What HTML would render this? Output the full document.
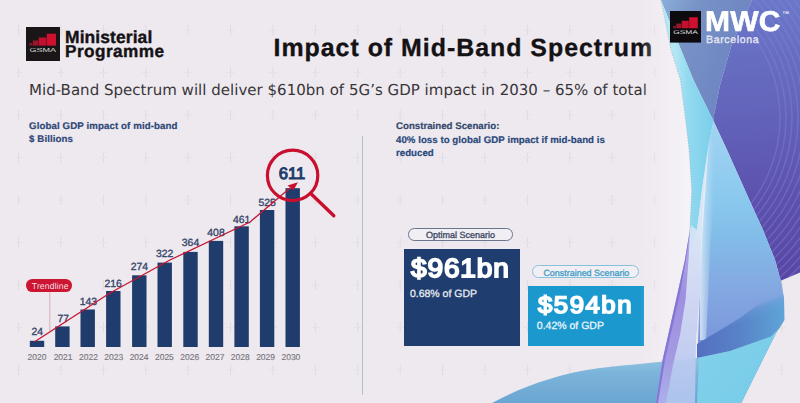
<!DOCTYPE html>
<html><head><meta charset="utf-8">
<style>
*{margin:0;padding:0;box-sizing:border-box}
html,body{width:800px;height:403px;overflow:hidden;background:#eee9ef}
body{position:relative;font-family:"Liberation Sans",sans-serif;text-rendering:geometricPrecision}
.a{position:absolute;white-space:nowrap;line-height:1}
.t{position:absolute;white-space:nowrap;line-height:1}
</style></head><body>
<svg class="a" style="left:0;top:0" width="800" height="403" viewBox="0 0 800 403">
<path d="M18.6 25.0v10M18.6 67.5v10M18.6 110.0v10M18.6 152.5v10M18.6 195.0v10M18.6 237.5v10M18.6 280.0v10M18.6 322.5v10M18.6 365.0v10M18.6 407.5v10M61.0 25.0v10M61.0 67.5v10M61.0 110.0v10M61.0 152.5v10M61.0 195.0v10M61.0 237.5v10M61.0 280.0v10M61.0 322.5v10M61.0 365.0v10M61.0 407.5v10M103.4 25.0v10M103.4 67.5v10M103.4 110.0v10M103.4 152.5v10M103.4 195.0v10M103.4 237.5v10M103.4 280.0v10M103.4 322.5v10M103.4 365.0v10M103.4 407.5v10M145.8 25.0v10M145.8 67.5v10M145.8 110.0v10M145.8 152.5v10M145.8 195.0v10M145.8 237.5v10M145.8 280.0v10M145.8 322.5v10M145.8 365.0v10M145.8 407.5v10M188.2 25.0v10M188.2 67.5v10M188.2 110.0v10M188.2 152.5v10M188.2 195.0v10M188.2 237.5v10M188.2 280.0v10M188.2 322.5v10M188.2 365.0v10M188.2 407.5v10M230.6 25.0v10M230.6 67.5v10M230.6 110.0v10M230.6 152.5v10M230.6 195.0v10M230.6 237.5v10M230.6 280.0v10M230.6 322.5v10M230.6 365.0v10M230.6 407.5v10M273.0 25.0v10M273.0 67.5v10M273.0 110.0v10M273.0 152.5v10M273.0 195.0v10M273.0 237.5v10M273.0 280.0v10M273.0 322.5v10M273.0 365.0v10M273.0 407.5v10M315.4 25.0v10M315.4 67.5v10M315.4 110.0v10M315.4 152.5v10M315.4 195.0v10M315.4 237.5v10M315.4 280.0v10M315.4 322.5v10M315.4 365.0v10M315.4 407.5v10M357.8 25.0v10M357.8 67.5v10M357.8 110.0v10M357.8 152.5v10M357.8 195.0v10M357.8 237.5v10M357.8 280.0v10M357.8 322.5v10M357.8 365.0v10M357.8 407.5v10M400.2 25.0v10M400.2 67.5v10M400.2 110.0v10M400.2 152.5v10M400.2 195.0v10M400.2 237.5v10M400.2 280.0v10M400.2 322.5v10M400.2 365.0v10M400.2 407.5v10M442.6 25.0v10M442.6 67.5v10M442.6 110.0v10M442.6 152.5v10M442.6 195.0v10M442.6 237.5v10M442.6 280.0v10M442.6 322.5v10M442.6 365.0v10M442.6 407.5v10M485.0 25.0v10M485.0 67.5v10M485.0 110.0v10M485.0 152.5v10M485.0 195.0v10M485.0 237.5v10M485.0 280.0v10M485.0 322.5v10M485.0 365.0v10M485.0 407.5v10M527.4 25.0v10M527.4 67.5v10M527.4 110.0v10M527.4 152.5v10M527.4 195.0v10M527.4 237.5v10M527.4 280.0v10M527.4 322.5v10M527.4 365.0v10M527.4 407.5v10M569.8 25.0v10M569.8 67.5v10M569.8 110.0v10M569.8 152.5v10M569.8 195.0v10M569.8 237.5v10M569.8 280.0v10M569.8 322.5v10M569.8 365.0v10M569.8 407.5v10M612.2 25.0v10M612.2 67.5v10M612.2 110.0v10M612.2 152.5v10M612.2 195.0v10M612.2 237.5v10M612.2 280.0v10M612.2 322.5v10M612.2 365.0v10M612.2 407.5v10M654.6 25.0v10M654.6 67.5v10M654.6 110.0v10M654.6 152.5v10M654.6 195.0v10M654.6 237.5v10M654.6 280.0v10M654.6 322.5v10M654.6 365.0v10M654.6 407.5v10M697.0 25.0v10M697.0 67.5v10M697.0 110.0v10M697.0 152.5v10M697.0 195.0v10M697.0 237.5v10M697.0 280.0v10M697.0 322.5v10M697.0 365.0v10M697.0 407.5v10M739.4 25.0v10M739.4 67.5v10M739.4 110.0v10M739.4 152.5v10M739.4 195.0v10M739.4 237.5v10M739.4 280.0v10M739.4 322.5v10M739.4 365.0v10M739.4 407.5v10M781.8 25.0v10M781.8 67.5v10M781.8 110.0v10M781.8 152.5v10M781.8 195.0v10M781.8 237.5v10M781.8 280.0v10M781.8 322.5v10M781.8 365.0v10M781.8 407.5v10" stroke="#dfd9e2" stroke-width="1" fill="none"/><path d="M14.6 30.0h8M14.6 72.5h8M14.6 115.0h8M14.6 157.5h8M14.6 200.0h8M14.6 242.5h8M14.6 285.0h8M14.6 327.5h8M14.6 370.0h8M14.6 412.5h8M57.0 30.0h8M57.0 72.5h8M57.0 115.0h8M57.0 157.5h8M57.0 200.0h8M57.0 242.5h8M57.0 285.0h8M57.0 327.5h8M57.0 370.0h8M57.0 412.5h8M99.4 30.0h8M99.4 72.5h8M99.4 115.0h8M99.4 157.5h8M99.4 200.0h8M99.4 242.5h8M99.4 285.0h8M99.4 327.5h8M99.4 370.0h8M99.4 412.5h8M141.8 30.0h8M141.8 72.5h8M141.8 115.0h8M141.8 157.5h8M141.8 200.0h8M141.8 242.5h8M141.8 285.0h8M141.8 327.5h8M141.8 370.0h8M141.8 412.5h8M184.2 30.0h8M184.2 72.5h8M184.2 115.0h8M184.2 157.5h8M184.2 200.0h8M184.2 242.5h8M184.2 285.0h8M184.2 327.5h8M184.2 370.0h8M184.2 412.5h8M226.6 30.0h8M226.6 72.5h8M226.6 115.0h8M226.6 157.5h8M226.6 200.0h8M226.6 242.5h8M226.6 285.0h8M226.6 327.5h8M226.6 370.0h8M226.6 412.5h8M269.0 30.0h8M269.0 72.5h8M269.0 115.0h8M269.0 157.5h8M269.0 200.0h8M269.0 242.5h8M269.0 285.0h8M269.0 327.5h8M269.0 370.0h8M269.0 412.5h8M311.4 30.0h8M311.4 72.5h8M311.4 115.0h8M311.4 157.5h8M311.4 200.0h8M311.4 242.5h8M311.4 285.0h8M311.4 327.5h8M311.4 370.0h8M311.4 412.5h8M353.8 30.0h8M353.8 72.5h8M353.8 115.0h8M353.8 157.5h8M353.8 200.0h8M353.8 242.5h8M353.8 285.0h8M353.8 327.5h8M353.8 370.0h8M353.8 412.5h8M396.2 30.0h8M396.2 72.5h8M396.2 115.0h8M396.2 157.5h8M396.2 200.0h8M396.2 242.5h8M396.2 285.0h8M396.2 327.5h8M396.2 370.0h8M396.2 412.5h8M438.6 30.0h8M438.6 72.5h8M438.6 115.0h8M438.6 157.5h8M438.6 200.0h8M438.6 242.5h8M438.6 285.0h8M438.6 327.5h8M438.6 370.0h8M438.6 412.5h8M481.0 30.0h8M481.0 72.5h8M481.0 115.0h8M481.0 157.5h8M481.0 200.0h8M481.0 242.5h8M481.0 285.0h8M481.0 327.5h8M481.0 370.0h8M481.0 412.5h8M523.4 30.0h8M523.4 72.5h8M523.4 115.0h8M523.4 157.5h8M523.4 200.0h8M523.4 242.5h8M523.4 285.0h8M523.4 327.5h8M523.4 370.0h8M523.4 412.5h8M565.8 30.0h8M565.8 72.5h8M565.8 115.0h8M565.8 157.5h8M565.8 200.0h8M565.8 242.5h8M565.8 285.0h8M565.8 327.5h8M565.8 370.0h8M565.8 412.5h8M608.2 30.0h8M608.2 72.5h8M608.2 115.0h8M608.2 157.5h8M608.2 200.0h8M608.2 242.5h8M608.2 285.0h8M608.2 327.5h8M608.2 370.0h8M608.2 412.5h8M650.6 30.0h8M650.6 72.5h8M650.6 115.0h8M650.6 157.5h8M650.6 200.0h8M650.6 242.5h8M650.6 285.0h8M650.6 327.5h8M650.6 370.0h8M650.6 412.5h8M693.0 30.0h8M693.0 72.5h8M693.0 115.0h8M693.0 157.5h8M693.0 200.0h8M693.0 242.5h8M693.0 285.0h8M693.0 327.5h8M693.0 370.0h8M693.0 412.5h8M735.4 30.0h8M735.4 72.5h8M735.4 115.0h8M735.4 157.5h8M735.4 200.0h8M735.4 242.5h8M735.4 285.0h8M735.4 327.5h8M735.4 370.0h8M735.4 412.5h8M777.8 30.0h8M777.8 72.5h8M777.8 115.0h8M777.8 157.5h8M777.8 200.0h8M777.8 242.5h8M777.8 285.0h8M777.8 327.5h8M777.8 370.0h8M777.8 412.5h8" stroke="#e6e1e8" stroke-width="1" fill="none"/>
</svg>

<!-- GSMA logo left -->
<svg class="a" style="left:26px;top:27px" width="34" height="34" viewBox="0 0 34 34">
<rect width="34" height="34" fill="#1a1618"/>
<rect x="3.4" y="16" width="2.9" height="2.6" fill="#7a1a2a"/>
<rect x="6.8" y="13.5" width="5.4" height="5.1" fill="#9a142c"/>
<rect x="12.7" y="10.5" width="7.6" height="8.1" fill="#c4102e"/>
<rect x="20.7" y="6.7" width="9.3" height="11.9" fill="#d0102f"/>
<text x="3.4" y="24.9" font-family="Liberation Sans, sans-serif" font-size="5.9" fill="#d6d6d6" textLength="26.6" lengthAdjust="spacingAndGlyphs">GSMA</text>
</svg>
<div class="t" id="min1" style="left:65px;top:28.9px;font-size:17.45px;letter-spacing:0.1px;font-weight:bold;color:#151215;-webkit-text-stroke:0.4px #151215">Ministerial</div>
<div class="t" id="min2" style="left:65px;top:42.8px;font-size:17.2px;letter-spacing:0.45px;font-weight:bold;color:#151215;-webkit-text-stroke:0.4px #151215">Programme</div>

<div class="t" id="title" style="left:273.5px;top:36.2px;font-size:24.9px;letter-spacing:1px;font-weight:bold;color:#141214;-webkit-text-stroke:0.35px #141214">Impact of Mid-Band Spectrum</div>
<div class="t" id="sub" style="left:29px;top:82.7px;font-size:15px;letter-spacing:0.02px;font-family:'DejaVu Sans',sans-serif;color:#383538">Mid-Band Spectrum will deliver $610bn of 5G’s GDP impact in 2030 – 65% of total</div>

<div class="t" id="h1" style="left:29px;top:121.8px;font-size:9.7px;letter-spacing:0.1px;font-weight:bold;color:#2f4a78;-webkit-text-stroke:0.2px #2f4a78">Global GDP impact of mid-band</div>
<div class="t" id="h2" style="left:29px;top:134.6px;font-size:9.7px;letter-spacing:0.1px;font-weight:bold;color:#2f4a78;-webkit-text-stroke:0.2px #2f4a78">$ Billions</div>

<div class="t" id="c1" style="left:396px;top:122.4px;font-size:9.7px;font-weight:bold;color:#34496e;-webkit-text-stroke:0.2px #34496e">Constrained Scenario:</div>
<div class="t" id="c2" style="left:396px;top:136.2px;font-size:9.7px;letter-spacing:0.03px;font-weight:bold;color:#2b4a7c;-webkit-text-stroke:0.2px #2b4a7c">40% loss to global GDP impact if mid-band is</div>
<div class="t" id="c3" style="left:396px;top:148.8px;font-size:9.7px;font-weight:bold;color:#2b4a7c;-webkit-text-stroke:0.2px #2b4a7c">reduced</div>

<!-- divider -->
<div class="a" style="left:361.6px;top:136px;width:1.2px;height:258.5px;background:#b7bfc8"></div>

<!-- chart -->
<svg class="a" style="left:0;top:0" width="360" height="403" viewBox="0 0 360 403" id="chart">
<g fill="#1f3c6d">
<rect x="29.8" y="340.8" width="14.4" height="6.2"/>
<rect x="55.2" y="326.4" width="14.4" height="20.6"/>
<rect x="80.5" y="309.5" width="14.4" height="37.5"/>
<rect x="106.1" y="291" width="14.4" height="56"/>
<rect x="132.1" y="275.3" width="14.4" height="71.7"/>
<rect x="157.5" y="262.6" width="14.4" height="84.4"/>
<rect x="183.3" y="251.9" width="14.4" height="95.1"/>
<rect x="208.8" y="240.9" width="14.4" height="106.1"/>
<rect x="234.4" y="226.3" width="14.4" height="120.7"/>
<rect x="259.9" y="210" width="14.4" height="137"/>
<rect x="285.5" y="188.2" width="14.4" height="158.8"/>
</g>
<g font-family="Liberation Sans, sans-serif" font-size="10.4" fill="#34466a" stroke="#34466a" stroke-width="0.35" text-anchor="middle">
<text x="37.2" y="335">24</text>
<text x="63.2" y="321.6">77</text>
<text x="88.4" y="304.6">143</text>
<text x="113.2" y="286.8">216</text>
<text x="139.3" y="269.8">274</text>
<text x="164.7" y="257">322</text>
<text x="190.5" y="245.6">364</text>
<text x="216" y="235.7">408</text>
<text x="241.6" y="222.8">461</text>
<text x="267.1" y="205.9">525</text>
</g>
<text x="292" y="178.7" font-family="Liberation Sans, sans-serif" font-size="16.6" fill="#223b6b" stroke="#223b6b" stroke-width="1" text-anchor="middle">611</text>
<g font-family="Liberation Sans, sans-serif" font-size="8.5" fill="#78757c" stroke="#78757c" stroke-width="0.15" text-anchor="middle">
<text x="37" y="359.5">2020</text>
<text x="63.1" y="359.5">2021</text>
<text x="88.5" y="359.5">2022</text>
<text x="113.8" y="359.5">2023</text>
<text x="139.1" y="359.5">2024</text>
<text x="164.4" y="359.5">2025</text>
<text x="189.7" y="359.5">2026</text>
<text x="215" y="359.5">2027</text>
<text x="240.3" y="359.5">2028</text>
<text x="265.6" y="359.5">2029</text>
<text x="290.9" y="359.5">2030</text>
</g>
<line x1="49.8" y1="292" x2="49.8" y2="331" stroke="#d4a0aa" stroke-width="0.8"/>
<polyline points="34.6,341.7 110,293 170,260 250,222 290,188" fill="none" stroke="#c8142f" stroke-width="1.3" stroke-linejoin="round"/>
<polygon points="298,182.3 287.5,185.6 293.5,190.3" fill="#c8102e"/>
<circle cx="292.6" cy="175.4" r="25.2" fill="none" stroke="#c8102e" stroke-width="3.2"/>
<line x1="311.5" y1="194.3" x2="333.8" y2="215.8" stroke="#c8102e" stroke-width="3.4" stroke-linecap="round"/>
</svg>

<!-- trendline pill -->
<div class="a" style="left:26px;top:279.2px;width:46.4px;height:12.8px;border-radius:6.4px;background:#cc1530"></div>
<div class="t" id="tl" style="left:31.8px;top:281.6px;font-size:8.7px;letter-spacing:0.1px;color:#f4dfe2">Trendline</div>

<!-- scenario boxes -->
<div class="a" style="left:407.9px;top:228.3px;width:105.2px;height:12.6px;border-radius:6.3px;border:1px solid #6a7690;background:#f1eef4"></div>
<div class="t" id="os" style="left:426px;top:231.1px;font-size:9px;color:#3a4662;-webkit-text-stroke:0.3px #3a4662">Optimal Scenario</div>
<div class="a" style="left:404px;top:248.8px;width:115.5px;height:97px;background:#1f3d6e"></div>
<div class="t" id="v1" style="left:410.6px;top:254.9px;font-size:26.2px;letter-spacing:0.8px;color:#fff;-webkit-text-stroke:1.8px #fff;transform:scaleX(1.07);transform-origin:0 0">$961bn</div>
<div class="t" id="p1" style="left:409.9px;top:288.6px;font-size:10.5px;color:#eef0f5;-webkit-text-stroke:0.25px #eef0f5">0.68% of GDP</div>

<div class="a" style="left:531.6px;top:265.4px;width:107.9px;height:13.1px;border-radius:6.5px;border:1px solid #86c2de;background:#f1eef4"></div>
<div class="t" id="cs" style="left:543.4px;top:268.8px;font-size:8.95px;color:#3d9cc6;-webkit-text-stroke:0.3px #3d9cc6">Constrained Scenario</div>
<div class="a" style="left:528.3px;top:286.1px;width:115.7px;height:60px;background:#1b98cd"></div>
<div class="t" id="v2" style="left:537.9px;top:293.5px;font-size:24px;letter-spacing:1.45px;color:#fff;-webkit-text-stroke:1.7px #fff;transform:scaleX(1.07);transform-origin:0 0">$594bn</div>
<div class="t" id="p2" style="left:536.8px;top:321.1px;font-size:10.5px;color:#eef6fb;-webkit-text-stroke:0.25px #eef6fb">0.42% of GDP</div>

<!-- ribbon graphic -->
<svg class="a" style="left:0;top:0" width="800" height="403" viewBox="0 0 800 403" id="ribbon">
<defs>
<clipPath id="cPurp"><path d="M752,0 L800,0 L800,272.4 L780,281 L779,274.6 L775,259.8 L769,244.9 L763,230 L749.4,200 L727,150 L713.5,121 L714,115 L720,85 L732,43.4 Z"/></clipPath>
<linearGradient id="gSteel" gradientUnits="userSpaceOnUse" x1="661" y1="0" x2="745" y2="30">
<stop offset="0" stop-color="#8aaed8"/><stop offset="0.4" stop-color="#7892c6"/><stop offset="1" stop-color="#6e86c2"/>
</linearGradient>
<linearGradient id="gPurp" gradientUnits="userSpaceOnUse" x1="760" y1="0" x2="780" y2="280">
<stop offset="0" stop-color="#6a78c8"/><stop offset="0.35" stop-color="#6466bc"/><stop offset="0.7" stop-color="#5c52ae"/><stop offset="1" stop-color="#5846a4"/>
</linearGradient>
<linearGradient id="gCyan" gradientUnits="userSpaceOnUse" x1="675" y1="0" x2="712" y2="0">
<stop offset="0" stop-color="#b4e6f4"/><stop offset="0.35" stop-color="#92daf0"/><stop offset="1" stop-color="#7ccfea"/>
</linearGradient>
<linearGradient id="gLB" gradientUnits="userSpaceOnUse" x1="0" y1="123" x2="0" y2="345">
<stop offset="0" stop-color="#a2d4f2"/><stop offset="0.35" stop-color="#8ac8ee"/><stop offset="0.52" stop-color="#82bce8"/><stop offset="0.72" stop-color="#84aae2"/><stop offset="1" stop-color="#7a96da"/>
</linearGradient>
<linearGradient id="gBand" gradientUnits="userSpaceOnUse" x1="699" y1="0" x2="784" y2="0">
<stop offset="0" stop-color="#5470c0"/><stop offset="0.5" stop-color="#5884c8"/><stop offset="1" stop-color="#5ea4d8"/>
</linearGradient>
<linearGradient id="gCy" gradientUnits="userSpaceOnUse" x1="700" y1="355" x2="760" y2="403">
<stop offset="0" stop-color="#80d0ea"/><stop offset="1" stop-color="#78cce8"/>
</linearGradient>
<linearGradient id="gFan" gradientUnits="userSpaceOnUse" x1="0" y1="362" x2="0" y2="403">
<stop offset="0" stop-color="#8cc0e0"/><stop offset="0.25" stop-color="#7cb4da"/><stop offset="1" stop-color="#6aa6d2"/>
</linearGradient>
<linearGradient id="gLav" gradientUnits="userSpaceOnUse" x1="0" y1="230" x2="0" y2="403">
<stop offset="0" stop-color="#b0a4e6"/><stop offset="0.4" stop-color="#9484dc"/><stop offset="1" stop-color="#7c6cd2"/>
</linearGradient>
<linearGradient id="gGlow" gradientUnits="userSpaceOnUse" x1="640" y1="0" x2="690" y2="0">
<stop offset="0" stop-color="#f4f1f6" stop-opacity="0"/><stop offset="1" stop-color="#f6f4f8" stop-opacity="0.9"/>
</linearGradient>
<linearGradient id="gMB" gradientUnits="userSpaceOnUse" x1="733" y1="312" x2="745" y2="345">
<stop offset="0" stop-color="#000"/><stop offset="0.15" stop-color="#bbb"/><stop offset="0.4" stop-color="#fff"/><stop offset="1" stop-color="#fff"/>
</linearGradient>
<mask id="mBand" maskUnits="userSpaceOnUse" x="690" y="270" width="110" height="100"><rect x="690" y="270" width="110" height="100" fill="url(#gMB)"/></mask>
<linearGradient id="gLavL" gradientUnits="userSpaceOnUse" x1="0" y1="225" x2="0" y2="403">
<stop offset="0" stop-color="#b8b0ea"/><stop offset="0.4" stop-color="#9e90e0"/><stop offset="0.75" stop-color="#a49ae2"/><stop offset="1" stop-color="#aab0e8"/>
</linearGradient>
<linearGradient id="gFade" gradientUnits="userSpaceOnUse" x1="701" y1="0" x2="714" y2="0">
<stop offset="0" stop-color="#e4f0fa" stop-opacity="0.75"/><stop offset="1" stop-color="#c8e4f6" stop-opacity="0"/>
</linearGradient>
<linearGradient id="gWhite" gradientUnits="userSpaceOnUse" x1="0" y1="150" x2="0" y2="403">
<stop offset="0" stop-color="#d6ecf8"/><stop offset="0.35" stop-color="#d6e4f6"/><stop offset="0.6" stop-color="#ccd4f2"/><stop offset="0.85" stop-color="#bccaf0"/><stop offset="1" stop-color="#b2c6ee"/>
</linearGradient>
</defs>
<path d="M640,0 L661,0 L671,50 L680.4,80 L686,123 L689.1,150 L691.8,190 L689.9,230 L684.9,260 L678.3,290 L662.6,360 L655.9,403 L630,403 Z" fill="url(#gGlow)"/>
<path d="M661,0 L752,0 L732,43.4 L720,85 L714,115 L713.5,121 L693.5,80 L677,40 Z" fill="url(#gSteel)"/>
<path d="M752,0 L800,0 L800,272.4 L780,281 L779,274.6 L775,259.8 L769,244.9 L763,230 L749.4,200 L727,150 L713.5,121 L714,115 L720,85 L732,43.4 Z" fill="url(#gPurp)"/>
<g clip-path="url(#cPurp)" fill="none" stroke="#8a86dc" stroke-width="1.5" opacity="0.38"><circle cx="640" cy="118" r="140"/><circle cx="640" cy="118" r="146"/><circle cx="640" cy="118" r="152"/><circle cx="640" cy="118" r="158"/><circle cx="640" cy="118" r="164"/><circle cx="640" cy="118" r="170"/><circle cx="640" cy="118" r="176"/><circle cx="640" cy="118" r="182"/><circle cx="640" cy="118" r="188"/><circle cx="640" cy="118" r="194"/><circle cx="640" cy="118" r="200"/><circle cx="640" cy="118" r="206"/><circle cx="640" cy="118" r="212"/><circle cx="640" cy="118" r="218"/><circle cx="640" cy="118" r="224"/><circle cx="640" cy="118" r="230"/><circle cx="640" cy="118" r="236"/><circle cx="640" cy="118" r="242"/><circle cx="640" cy="118" r="248"/><circle cx="640" cy="118" r="254"/><circle cx="640" cy="118" r="260"/><circle cx="640" cy="118" r="266"/></g>
<path d="M661,0 L677,40 L693.5,80 L713.5,121 L708.6,145 L702,190 L697,230 L691,250 L689.9,230 L690.5,215 L691.8,190 L689.1,150 L686,123 L680.4,80 L671,50 Z" fill="url(#gCyan)"/>
<path d="M713.5,121 L727,150 L749.4,200 L763,230 L769,244.9 L775,259.8 L779,274.6 L781,280 L784,298 L784.3,320 L776.4,332.4 L741.3,403 L697,403 L698,340 L700,290 L702,240 L708.6,145 Z" fill="url(#gLB)"/>
<path d="M710,140 L718,150 L714,200 L710,250 L708,300 L706,340 L700,340 L700,290 L701,240 L704,190 L708.6,145 Z" fill="url(#gFade)"/>
<path d="M697,344 L740,318 L782,286 L784,298 L784.3,320 L779.5,328 L771,336.5 L730,351 L697,358 Z" fill="url(#gBand)" mask="url(#mBand)"/>
<path d="M697,358 L730,351 L771,336.5 L779.5,328 L784.3,320 L776.4,332.4 L741.3,403 L697,403 Z" fill="url(#gCy)"/>
<path d="M492,403 C520,388 555,374 600,368 C630,364.5 660,362.5 699,357.8 L697,403 Z" fill="url(#gFan)"/>
<path d="M708.6,145 L704,190 L701,240 L700,290 L696,340 L695,403 L662,403 L669,360 L684.5,290 L690.5,225 L697,230 L702,190 Z" fill="url(#gWhite)" opacity="0.92"/>
<path d="M690.5,222 L688.5,260 L685.5,300 L680,335 L673,365 L666,403 L655.9,403 L662.6,360 L678.3,290 L684.9,260 L689.9,230 Z" fill="url(#gLavL)"/>
<path d="M690,230 L687.5,250 L680.8,290 L665,360 L658,403 L655.9,403 L662.6,360 L678.3,290 L684.9,260 L689.9,230 Z" fill="#8676d6"/>
<path d="M661,0 L671,50 L680.4,80 L686,123 L689.1,150 L691.8,190 L689.9,230" fill="none" stroke="#7c8ea8" stroke-width="0.7" stroke-dasharray="1.2 1.6" opacity="0.6"/>
</svg>

<!-- MWC logo -->
<svg class="a" style="left:669.5px;top:11px" width="31.5" height="31.6" viewBox="0 0 34 34" preserveAspectRatio="none">
<rect width="34" height="34" fill="#0d0b0e"/>
<rect x="3.4" y="16" width="2.9" height="2.6" fill="#7a1a2a"/>
<rect x="6.8" y="13.5" width="5.4" height="5.1" fill="#9a142c"/>
<rect x="12.7" y="10.5" width="7.6" height="8.1" fill="#c4102e"/>
<rect x="20.7" y="6.7" width="9.3" height="11.9" fill="#d0102f"/>
<text x="3.4" y="24.9" font-family="Liberation Sans, sans-serif" font-size="5.9" fill="#dedede" textLength="26.6" lengthAdjust="spacingAndGlyphs">GSMA</text>
</svg>
<div class="t" id="mwc" style="left:705.3px;top:8.4px;font-size:28.6px;letter-spacing:0.2px;font-weight:bold;color:#fff;-webkit-text-stroke:0.6px #fff;transform:scaleX(1.05);transform-origin:0 0">MWC</div>
<div class="t" style="left:782.6px;top:10.8px;font-size:4.2px;font-weight:bold;color:#f0f0f8">TM</div>
<div class="t" id="bar" style="left:706px;top:34.8px;font-size:10.6px;letter-spacing:0.62px;color:#e4e6f2;-webkit-text-stroke:0.35px #e4e6f2">Barcelona</div>
</body></html>
